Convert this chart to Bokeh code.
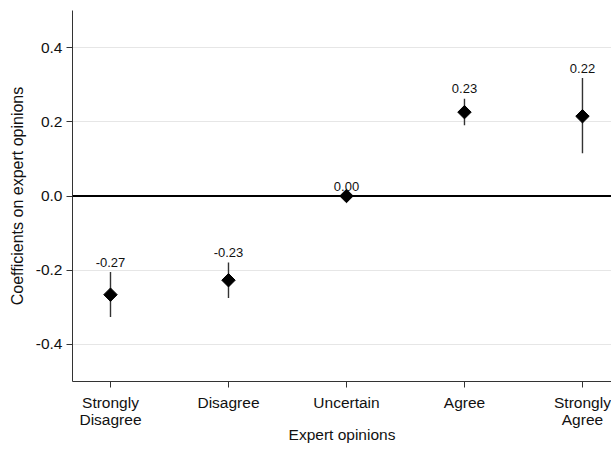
import numpy as np
from bokeh.plotting import figure
from bokeh.models import ColumnDataSource, FixedTicker, Span, Range1d
from bokeh.embed import file_html
from bokeh.resources import INLINE

categories = ["Strongly\nDisagree", "Disagree", "Uncertain", "Agree", "Strongly\nAgree"]
coef = [-0.266, -0.227, 0.0, 0.226, 0.215]
ci_low = [-0.326, -0.275, 0.0, 0.191, 0.115]
ci_high = [-0.205, -0.179, 0.0, 0.262, 0.318]
labels = ["-0.27", "-0.23", "0.00", "0.23", "0.22"]
yticks = [-0.4, -0.2, 0.0, 0.2, 0.4]

xpos = list(range(1, len(categories) + 1))
src = ColumnDataSource(dict(x=xpos, coef=coef, lo=ci_low, hi=ci_high, lab=labels))

FONT = "Liberation Sans"

p = figure(width=611, height=449, output_backend="svg", toolbar_location=None,
           x_range=Range1d(0.678, 5.246), y_range=Range1d(-0.5, 0.5),
           min_border_left=72, min_border_top=10, min_border_bottom=68, min_border_right=0)
p.outline_line_color = None
p.background_fill_color = "white"
p.border_fill_color = "white"

# axes
p.xaxis.ticker = FixedTicker(ticks=xpos)
p.xaxis.major_label_overrides = {i: c for i, c in zip(xpos, categories)}
p.yaxis.ticker = FixedTicker(ticks=yticks)
p.yaxis.major_label_overrides = {t: f"{t:.1f}" for t in yticks}
for ax in (p.xaxis[0], p.yaxis[0]):
    ax.axis_line_color = "#333333"
    ax.major_tick_line_color = "#333333"
    ax.major_tick_out = 6
    ax.major_tick_in = 0
    ax.minor_tick_line_color = None
    ax.major_label_text_font = FONT
    ax.major_label_text_font_size = "15.5px"
    ax.major_label_text_color = "#111111"
    ax.axis_label_text_font = FONT
    ax.axis_label_text_font_size = "15.5px"
    ax.axis_label_text_font_style = "normal"
    ax.axis_label_text_color = "#111111"
p.xaxis.major_label_text_line_height = 1.0
p.yaxis.axis_label_text_font_size = "16px"
p.xaxis.axis_label = "Expert opinions"
p.yaxis.axis_label = "Coefficients on expert opinions"
p.yaxis.major_label_standoff = 4
p.yaxis.axis_label_standoff = 7
p.xaxis.major_label_standoff = 6
p.xaxis.axis_label_standoff = -5

p.xgrid.grid_line_color = None
p.ygrid.grid_line_color = "#e6e6e6"
p.ygrid.grid_line_width = 1
p.ygrid.ticker = FixedTicker(ticks=yticks)

zero = Span(location=0, dimension="width", line_color="black", line_width=2)
p.add_layout(zero)

p.segment(x0="x", y0="lo", x1="x", y1="hi", source=src, line_color="#333333", line_width=1.4)
p.scatter(x="x", y="coef", source=src, marker="square", size=9.5, angle=np.pi / 4,
          fill_color="black", line_color="black")
p.text(x="x", y="hi", text="lab", source=src, text_align="center", text_baseline="alphabetic",
       y_offset=-10, text_font_size="13px", text_font={"value": FONT}, text_color="#111111")

open("out.html", "w").write(file_html(p, INLINE))
